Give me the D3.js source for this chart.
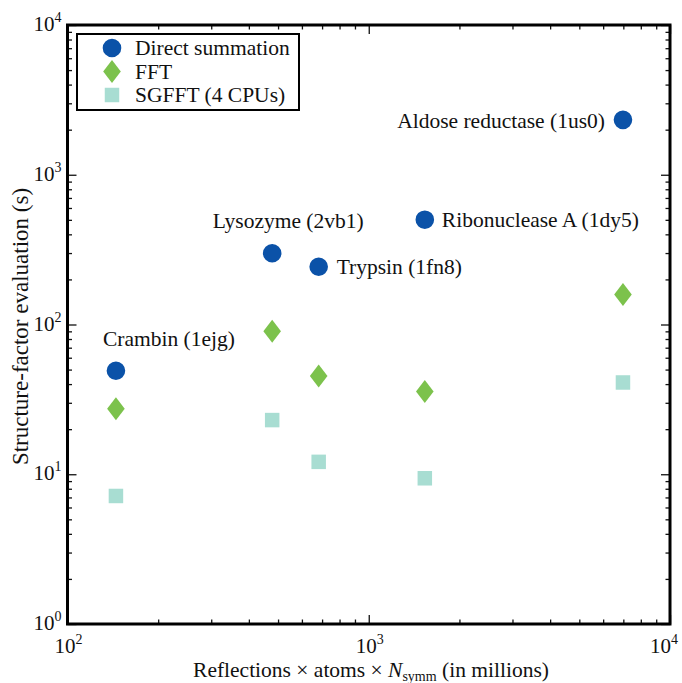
<!DOCTYPE html>
<html>
<head>
<meta charset="utf-8">
<script src="https://cdn.jsdelivr.net/npm/d3@7"></script>
<style>
  html, body { margin: 0; padding: 0; background: #fff; }
  svg { display: block; }
  text { font-family: "Liberation Serif", "DejaVu Serif", serif; fill: #111; }
</style>
</head>
<body>
<svg id="chart" width="682" height="683"></svg>
<script>
// ---- data ----
const proteins = ["Crambin (1ejg)", "Lysozyme (2vb1)", "Trypsin (1fn8)", "Ribonuclease A (1dy5)", "Aldose reductase (1us0)"];
const xValues = [144.8, 478, 682, 1535, 6980];           // Reflections × atoms × Nsymm (millions)
const directSummation = [49.1, 299, 243, 501, 2326];      // s
const fftValues = [27.4, 90.1, 45.3, 35.7, 158.5];        // s
const sgfftValues = [7.16, 23.0, 12.1, 9.4, 41];          // s
const seriesNames = ["Direct summation", "FFT", "SGFFT (4 CPUs)"];
const xMajorExps = [2, 3, 4];
const yMajorExps = [0, 1, 2, 3, 4];

// ---- layout ----
const svg = d3.select("#chart");
const L = 67.5, R = 670, T = 25, B = 624;
const x = d3.scaleLog().domain([100, 10000]).range([L, R]);
const y = d3.scaleLog().domain([1, 10000]).range([B, T]);

const colors = { circle: "#0b52a8", diamond: "#7cc24c", square: "#a8ddd2" };

function minors(lo, hi) {
  const out = [];
  for (let e = lo; e < hi; e++) for (let m = 2; m <= 9; m++) out.push(m * Math.pow(10, e));
  return out;
}
const xMajors = xMajorExps.map(e => Math.pow(10, e));
const yMajors = yMajorExps.map(e => Math.pow(10, e));

const axesG = svg.append("g");
function drawAxis(axisFn, scale, values, size, transform) {
  const g = axesG.append("g").attr("transform", transform)
    .call(axisFn(scale).tickValues(values).tickSize(-size).tickFormat(""));
  g.select(".domain").remove();
  g.selectAll(".tick line").attr("stroke", "#111").attr("stroke-width", 1.3);
  return g;
}
drawAxis(d3.axisBottom, x, xMajors, 9, `translate(0,${B})`);
drawAxis(d3.axisBottom, x, minors(2, 4), 4.5, `translate(0,${B})`);
drawAxis(d3.axisTop, x, xMajors, 9, `translate(0,${T})`);
drawAxis(d3.axisTop, x, minors(2, 4), 4.5, `translate(0,${T})`);
drawAxis(d3.axisLeft, y, yMajors, 9, `translate(${L},0)`);
drawAxis(d3.axisLeft, y, minors(0, 4), 4.5, `translate(${L},0)`);
drawAxis(d3.axisRight, y, yMajors, 9, `translate(${R},0)`);
drawAxis(d3.axisRight, y, minors(0, 4), 4.5, `translate(${R},0)`);

svg.append("rect").attr("x", L).attr("y", T).attr("width", R - L).attr("height", B - T)
  .attr("fill", "none").attr("stroke", "#000").attr("stroke-width", 3);

function powLabel(g, e) {
  g.append("tspan").text("10");
  g.append("tspan").attr("dy", -9).attr("font-size", 14).text(e);
}
xMajorExps.forEach(e => {
  const t = svg.append("text").attr("x", Math.min(x(Math.pow(10, e)) + 1, 664)).attr("y", B + 29)
    .attr("text-anchor", "middle").attr("font-size", 21);
  powLabel(t, e);
});
yMajorExps.forEach(e => {
  const t = svg.append("text").attr("x", L - 6).attr("y", y(Math.pow(10, e)) + 6)
    .attr("text-anchor", "end").attr("font-size", 21);
  powLabel(t, e);
});

const xt = svg.append("text").attr("x", 371).attr("y", 677).attr("text-anchor", "middle").attr("font-size", 21.5);
xt.append("tspan").text("Reflections × atoms × ");
xt.append("tspan").attr("font-style", "italic").text("N");
xt.append("tspan").attr("font-size", 14).attr("dy", 4).text("symm");
xt.append("tspan").attr("dy", -4).text(" (in millions)");

svg.append("text").attr("transform", `translate(28,${(T + B) / 2 + 2}) rotate(-90)`)
  .attr("text-anchor", "middle").attr("font-size", 23).text("Structure-factor evaluation (s)");

const plot = svg.append("g");
const circleSym = d3.symbol().type(d3.symbolCircle).size(Math.PI * 9.3 * 9.3);
const squareSym = d3.symbol().type(d3.symbolSquare).size(14.5 * 14.5);
const diamondPath = "M0,-11.5L8.8,0L0,11.5L-8.8,0Z";

plot.selectAll(".sq").data(xValues).join("path")
  .attr("d", squareSym).attr("fill", colors.square)
  .attr("transform", (d, i) => `translate(${x(d)},${y(sgfftValues[i])})`);
plot.selectAll(".dm").data(xValues).join("path")
  .attr("d", diamondPath).attr("fill", colors.diamond)
  .attr("transform", (d, i) => `translate(${x(d)},${y(fftValues[i])})`);
plot.selectAll(".ci").data(xValues).join("path")
  .attr("d", circleSym).attr("fill", colors.circle)
  .attr("transform", (d, i) => `translate(${x(d)},${y(directSummation[i])})`);

const annot = [
  { dx: 53, dy: -25, anchor: "middle" },
  { dx: 16, dy: -25, anchor: "middle" },
  { dx: 18, dy: 7, anchor: "start" },
  { dx: 17, dy: 7, anchor: "start" },
  { dx: -18, dy: 8, anchor: "end" }
];
proteins.forEach((p, i) => {
  svg.append("text")
    .attr("x", x(xValues[i]) + annot[i].dx)
    .attr("y", y(directSummation[i]) + annot[i].dy)
    .attr("text-anchor", annot[i].anchor)
    .attr("font-size", 21.5).text(p);
});

const lg = svg.append("g");
lg.append("rect").attr("x", 77).attr("y", 34).attr("width", 222).attr("height", 76)
  .attr("fill", "#fff").attr("stroke", "#000").attr("stroke-width", 2);
const legY = [48, 71.5, 95];
const legPaths = [circleSym(), diamondPath, squareSym()];
const legColors = [colors.circle, colors.diamond, colors.square];
seriesNames.forEach((s, i) => {
  lg.append("path").attr("d", legPaths[i]).attr("fill", legColors[i])
    .attr("transform", `translate(112,${legY[i]})`);
  lg.append("text").attr("x", 135).attr("y", legY[i] + 7).attr("font-size", 21.5).text(s);
});
</script>
</body>
</html>
